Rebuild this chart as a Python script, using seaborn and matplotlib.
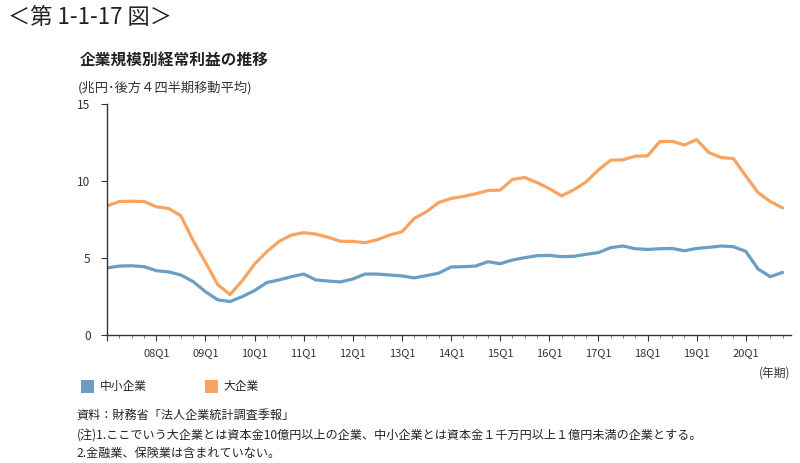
import matplotlib
matplotlib.use("Agg")
import matplotlib.pyplot as plt
import matplotlib.patches as mpatches
from matplotlib.ticker import FixedLocator, MultipleLocator
import seaborn as sns
import pandas as pd

quarters = [f"{y:02d}Q{q}" for y in range(7, 21) for q in range(1, 5)]
small = [4.38, 4.50, 4.52, 4.46, 4.20, 4.12, 3.92, 3.49, 2.84, 2.31, 2.20, 2.52,
         2.91, 3.43, 3.60, 3.81, 3.98, 3.60, 3.53, 3.47, 3.66, 3.98, 3.98, 3.92,
         3.86, 3.73, 3.88, 4.04, 4.44, 4.46, 4.50, 4.78, 4.65, 4.89, 5.04, 5.17,
         5.19, 5.11, 5.13, 5.26, 5.37, 5.69, 5.80, 5.62, 5.58, 5.62, 5.64, 5.49,
         5.64, 5.71, 5.80, 5.75, 5.45, 4.31, 3.81, 4.09]
large = [8.40, 8.68, 8.70, 8.68, 8.34, 8.23, 7.76, 6.14, 4.74, 3.30, 2.65, 3.55,
         4.63, 5.43, 6.10, 6.51, 6.66, 6.57, 6.36, 6.10, 6.10, 6.01, 6.21, 6.51,
         6.72, 7.58, 8.02, 8.62, 8.88, 9.01, 9.18, 9.39, 9.42, 10.11, 10.24, 9.91,
         9.52, 9.05, 9.44, 9.95, 10.73, 11.36, 11.38, 11.62, 11.64, 12.56, 12.58, 12.35,
         12.69, 11.85, 11.53, 11.46, 10.34, 9.26, 8.68, 8.27]
series_names = ["中小企業", "大企業"]
colors = ["#6a9ec2", "#f7a462"]
yticks = [0, 5, 10, 15]

sns.set_theme(style="white")
plt.rcParams["font.family"] = ["Noto Sans CJK JP", "DejaVu Sans"]

df = pd.DataFrame({
    "idx": list(range(len(quarters))) * 2,
    "value": small + large,
    "series": [series_names[0]] * len(small) + [series_names[1]] * len(large),
})

fig = plt.figure(figsize=(8, 4.63), dpi=100)
ax = fig.add_axes([0.134, 0.2754, 0.855, 0.5])
sns.lineplot(data=df, x="idx", y="value", hue="series", palette=colors,
             linewidth=2.3, ax=ax, legend=False)

ax.set_xlim(0, 55.7)
ax.set_ylim(0, 15)
ax.set_xlabel("")
ax.set_ylabel("")
for s in ["top", "right"]:
    ax.spines[s].set_visible(False)
for s in ["left", "bottom"]:
    ax.spines[s].set_color("#333333")
    ax.spines[s].set_linewidth(1.0)

major_pos = list(range(0, len(quarters), 4))
ax.xaxis.set_major_locator(FixedLocator(major_pos))
ax.set_xticklabels(["" if i == 0 else quarters[i] for i in major_pos])
ax.xaxis.set_minor_locator(MultipleLocator(1))
ax.tick_params(axis="x", which="major", direction="out", length=4, width=0.8,
               color="#333333", labelsize=8, labelcolor="#333333", pad=5, bottom=True)
ax.tick_params(axis="x", which="minor", direction="out", length=2, width=0.6,
               color="#666666", bottom=True)
ax.set_yticks(yticks)
ax.tick_params(axis="y", which="major", direction="out", length=4, width=0.8,
               color="#333333", labelsize=8.5, labelcolor="#333333", pad=8, left=True)

fig.text(0.01, 0.963, "＜第 1-1-17 図＞", fontsize=16, color="#222222", va="center")
fig.text(0.1, 0.868, "企業規模別経常利益の推移", fontsize=11.3, fontweight="bold",
         color="#222222", va="center")
fig.text(0.097, 0.81, "(兆円･後方４四半期移動平均)", fontsize=9.5, color="#333333", va="center")
fig.text(0.988, 0.195, "(年期)", fontsize=8.5, color="#333333", va="center", ha="right")

# legend
handles = [mpatches.Patch(facecolor=c, edgecolor="none", label=n) for c, n in zip(colors, series_names)]
fig.legend(handles=handles, loc="center left", bbox_to_anchor=(0.088, 0.165),
           ncol=2, frameon=False, fontsize=8.5, handlelength=1.1, handleheight=1.3,
           handletextpad=0.5, columnspacing=4.9)

notes = ["資料：財務省「法人企業統計調査季報」",
         "(注)1.ここでいう大企業とは資本金10億円以上の企業、中小企業とは資本金１千万円以上１億円未満の企業とする。",
         "2.金融業、保険業は含まれていない。"]
for i, t in enumerate(notes):
    fig.text(0.096, 0.102 - i * 0.041, t, fontsize=8.7, color="#222222", va="center")

fig.savefig("out.png", dpi=100, facecolor="white")
